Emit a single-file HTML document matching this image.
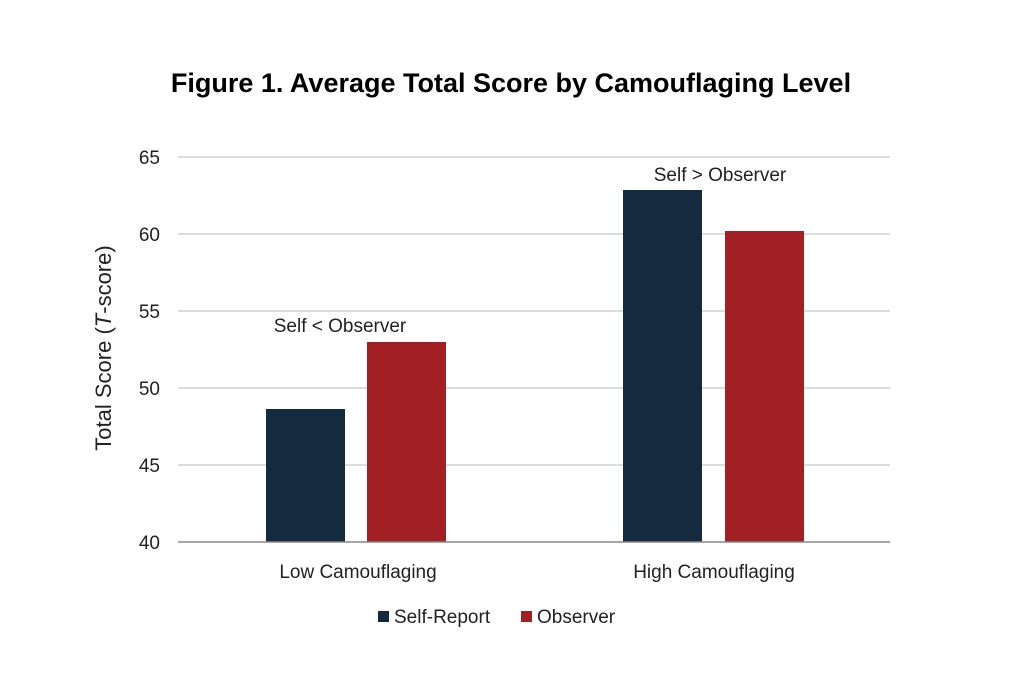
<!DOCTYPE html>
<html><head><style>body{margin:0;background:#fff}</style></head><body>
<svg width="1023" height="682" xmlns="http://www.w3.org/2000/svg" font-family="Liberation Sans, sans-serif">
<rect width="1023" height="682" fill="#fff"/>
<text x="511" y="92" text-anchor="middle" font-size="27" font-weight="bold" fill="#000">Figure 1. Average Total Score by Camouflaging Level</text>
<g stroke="#d0d0d0" stroke-width="1.5">
<line x1="178" x2="890" y1="157" y2="157"/>
<line x1="178" x2="890" y1="234" y2="234"/>
<line x1="178" x2="890" y1="311" y2="311"/>
<line x1="178" x2="890" y1="388" y2="388"/>
<line x1="178" x2="890" y1="465" y2="465"/>
</g>
<rect x="266" y="409" width="79" height="133" fill="#142a3e"/>
<rect x="367" y="342" width="79" height="200" fill="#a21f24"/>
<rect x="623" y="190" width="79" height="352" fill="#142a3e"/>
<rect x="725" y="231" width="79" height="311" fill="#a21f24"/>
<line x1="178" x2="890" y1="542" y2="542" stroke="#888" stroke-width="1.5"/>
<g font-size="19" fill="#222" text-anchor="end">
<text x="160" y="164">65</text><text x="160" y="241">60</text><text x="160" y="318">55</text>
<text x="160" y="395">50</text><text x="160" y="472">45</text><text x="160" y="549">40</text>
</g>
<g font-size="19" fill="#222" text-anchor="middle">
<text x="358" y="578">Low Camouflaging</text>
<text x="714" y="578">High Camouflaging</text>
<text x="340" y="332">Self &lt; Observer</text>
<text x="720" y="181">Self &gt; Observer</text>
</g>
<text transform="translate(111,348) rotate(-90)" text-anchor="middle" font-size="22" fill="#222">Total Score (<tspan font-style="italic">T</tspan>-score)</text>
<rect x="378" y="611" width="11" height="11" fill="#142a3e"/>
<text x="394" y="623" font-size="19" fill="#222">Self-Report</text>
<rect x="521" y="611" width="11" height="11" fill="#a21f24"/>
<text x="537" y="623" font-size="19" fill="#222">Observer</text>
</svg>
</body></html>
